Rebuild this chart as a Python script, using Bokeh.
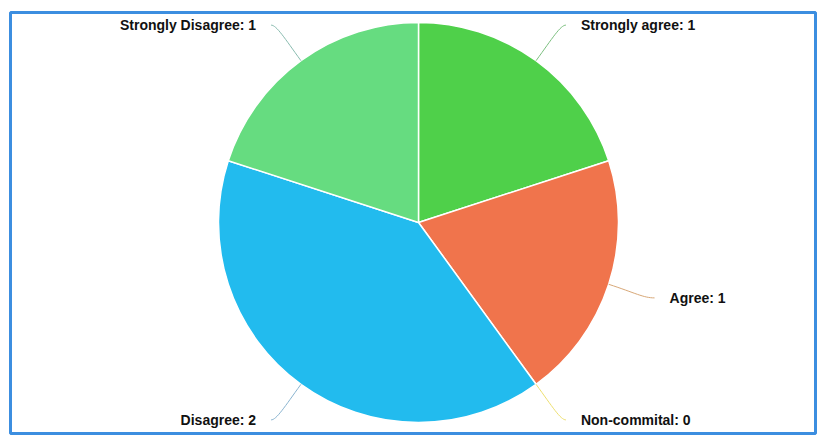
import math
from bokeh.plotting import figure
from bokeh.models import ColumnDataSource, Range1d
from bokeh.embed import file_html
from bokeh.resources import INLINE
from bokeh.core.properties import value

categories = ["Strongly agree", "Agree", "Non-commital", "Disagree", "Strongly Disagree"]
counts = [1, 1, 0, 2, 1]
colors = ["#4FD04A", "#F0744C", "#F2E65A", "#22BBEE", "#66DC80"]
leader_colors = ["#7CC080", "#D8A878", "#EEE070", "#8AB4D0", "#8ABCB0"]

FW, FH = 805, 421
cx, cy = 408, 211
R = 200
total = sum(counts)

p = figure(width=817, height=435, output_backend="svg", toolbar_location=None,
           x_range=Range1d(0, FW), y_range=Range1d(0, FH),
           min_border_left=10, min_border_top=12, min_border_right=2, min_border_bottom=2)
p.axis.visible = False
p.grid.visible = False
p.outline_line_color = "#3C8EE0"
p.outline_line_width = 3
p.background_fill_color = "white"
p.border_fill_color = "white"

starts, ends, wc = [], [], []
cum = 0
mids = []
for c, col in zip(counts, colors):
    a0 = math.pi / 2 - 2 * math.pi * cum / total
    cum += c
    a1 = math.pi / 2 - 2 * math.pi * cum / total
    mids.append((a0 + a1) / 2)
    if c > 0:
        starts.append(a0); ends.append(a1); wc.append(col)

src = ColumnDataSource(dict(start=starts, end=ends, color=wc))
p.wedge(x=cx, y=cy, radius=R, radius_units="screen", start_angle="start", end_angle="end",
        direction="clock", fill_color="color", line_color="white", line_width=1.5, source=src)

tx, ty, tt, ta = [], [], [], []
for name, c, m, lc in zip(categories, counts, mids, leader_colors):
    ux, uy = math.cos(m), math.sin(m)
    x0, y0 = cx + R * ux, cy + R * uy
    xc, yc = cx + (R + 28) * ux, cy + (R + 28) * uy
    side = 1 if ux >= 0 else -1
    x2, y2 = cx + (R + 44) * ux + side * 4, cy + (R + 44) * uy
    p.bezier(x0=[x0], y0=[y0], x1=[x2], y1=[y2], cx0=[xc], cy0=[yc], cx1=[xc + side * 8], cy1=[y2],
             line_color=lc, line_width=1)
    tx.append(x2 + side * 15); ty.append(y2)
    tt.append(f"{name}: {c}"); ta.append("left" if side > 0 else "right")

tsrc = ColumnDataSource(dict(x=tx, y=ty, t=tt, a=ta))
p.text(x="x", y="y", text="t", text_align="a", text_baseline="middle",
       text_font=value("Liberation Sans"), text_font_style="bold", text_font_size="14px",
       text_color="#111111", source=tsrc)

open("out.html", "w").write(file_html(p, INLINE))
